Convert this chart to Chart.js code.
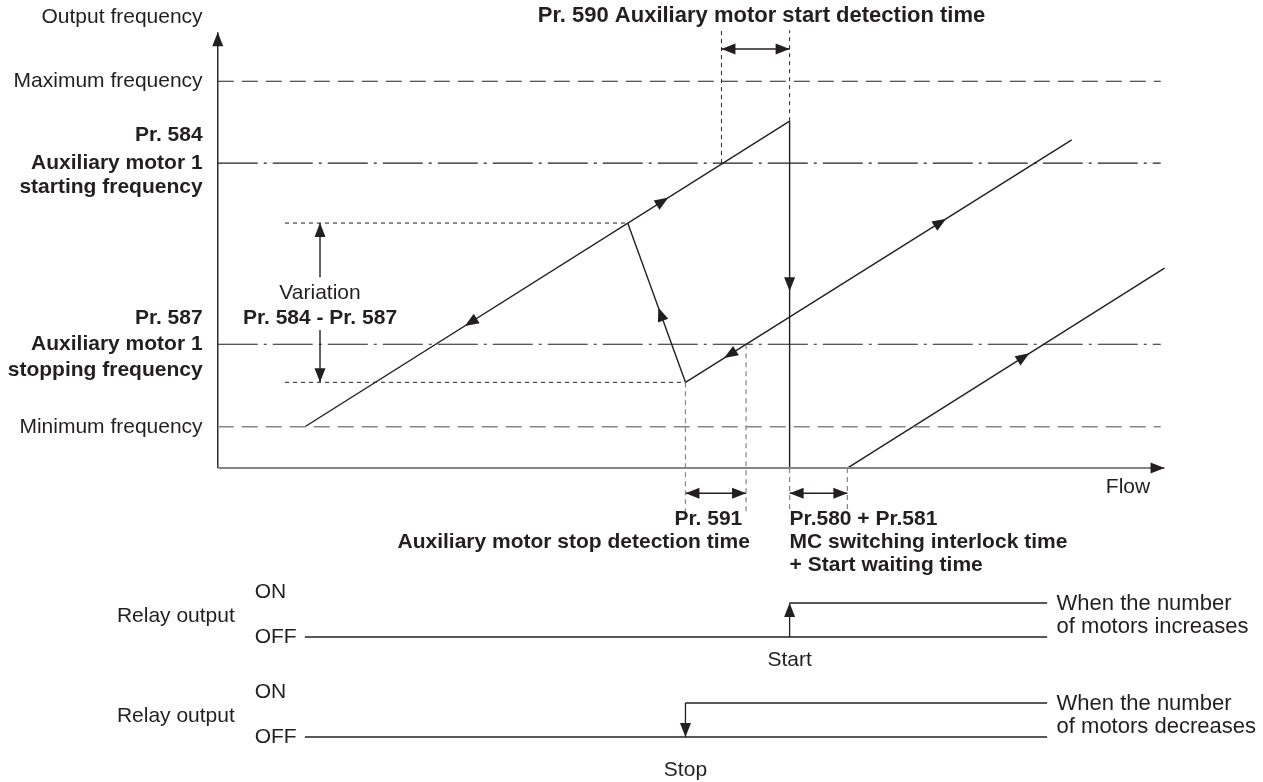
<!DOCTYPE html>
<html>
<head>
<meta charset="utf-8">
<script src="https://cdn.jsdelivr.net/npm/chart.js@4.4.0/dist/chart.umd.min.js"></script>
<style>
  html, body { margin: 0; padding: 0; background: #fff; }
  #wrap { width: 1263px; height: 782px; }
</style>
</head>
<body>
<div id="wrap"><canvas id="diagram" width="1263" height="782"></canvas></div>
<script>
// Reference frequency levels (Hz)
const levelNames = ['Maximum frequency', 'Pr. 584', 'Pr. 587', 'Minimum frequency'];
const levelFreq = [60, 47.3, 19.2, 6.4];
const variationFreq = [38.0, 13.3];          // top / bottom of the variation band

// Output frequency path (flow in %, frequency in Hz)
const riseFlow = [9.2, 60.4];     const riseFreq = [6.4, 53.8];
const dropFlow = [60.4, 60.4];    const dropFreq = [53.8, 0];
const backFlow = [43.3, 49.4];    const backFreq = [38.0, 13.3];
const climbFlow = [49.4, 90.2];   const climbFreq = [13.3, 50.9];
const restartFlow = [66.5, 100];  const restartFreq = [0, 31.0];

// Flow marks for the timing arrows
const startDetectFlow = [53.2, 60.4];   // Pr. 590
const stopDetectFlow = [49.4, 55.8];    // Pr. 591
const waitFlow = [60.4, 66.5];          // Pr.580 + Pr.581

// Relay outputs: OFF -> ON at these flows
const relayNames = ['increases', 'decreases'];
const relaySwitchFlow = [60.4, 49.4];
const relayRowBase = [2.94, 0];
const relayFlowRange = [9.2, 87.6];

const ink = '#231f20';
const grey = '#858585';

function seg(label, xs, ys, style, axis) {
  return Object.assign({
    label: label,
    data: xs.map((x, i) => ({ x: x, y: ys[i] })),
    showLine: true,
    pointRadius: 0,
    borderColor: ink,
    borderWidth: 1.4,
    yAxisID: axis || 'y'
  }, style);
}

const dashed = { borderDash: [16, 8], borderWidth: 1.2 };
const dashDot = { borderDash: [40, 6, 3, 6], borderWidth: 1.2 };
const greyDash = { borderDash: [16, 8], borderWidth: 1.6, borderColor: grey };
const dotted = { borderDash: [4, 4], borderWidth: 1 };
const greyDot = { borderDash: [5, 4], borderWidth: 1.2, borderColor: grey };

const lineStyles = [dashed, dashDot, dashDot, greyDash];

const datasets = [];
levelFreq.forEach((f, i) => datasets.push(seg('level' + i, [0, 99.6], [f, f], lineStyles[i])));
datasets.push(seg('varTop', [7.1, backFlow[0]], [variationFreq[0], variationFreq[0]], dotted));
datasets.push(seg('varBot', [7.1, backFlow[1]], [variationFreq[1], variationFreq[1]], dotted));

// guide verticals
datasets.push(seg('g590a', [startDetectFlow[0], startDetectFlow[0]], [levelFreq[1], 67.9], dotted));
datasets.push(seg('g590b', [startDetectFlow[1], startDetectFlow[1]], [riseFreq[1], 67.9], dotted));
datasets.push(seg('g591a', [stopDetectFlow[0], stopDetectFlow[0]], [variationFreq[1], -7.0], greyDot));
datasets.push(seg('g591b', [stopDetectFlow[1], stopDetectFlow[1]], [levelFreq[2], -7.0], greyDot));
datasets.push(seg('gWaitA', [waitFlow[0], waitFlow[0]], [0, -7.0], greyDot));
datasets.push(seg('gWaitB', [waitFlow[1], waitFlow[1]], [0, -7.0], greyDot));

// timing arrows
datasets.push(seg('t590', startDetectFlow, [65.0, 65.0], {}));
datasets.push(seg('t591', stopDetectFlow, [-3.9, -3.9], {}));
datasets.push(seg('tWait', waitFlow, [-3.9, -3.9], {}));
datasets.push(seg('varUp', [10.8, 10.8], [29.6, variationFreq[0]], {}));
datasets.push(seg('varDown', [10.8, 10.8], [21.4, variationFreq[1]], {}));

// axes
datasets.push(seg('xAxis', [0, 100], [0, 0], { borderColor: grey, borderWidth: 2 }));
datasets.push(seg('yAxis', [0, 0], [0, 67.6], { borderWidth: 1.4 }));

// frequency path
datasets.push(seg('rise', riseFlow, riseFreq, {}));
datasets.push(seg('drop', dropFlow, dropFreq, {}));
datasets.push(seg('back', backFlow, backFreq, {}));
datasets.push(seg('climb', climbFlow, climbFreq, {}));
datasets.push(seg('restart', restartFlow, restartFreq, {}));

// relay outputs
relaySwitchFlow.forEach((sf, i) => {
  const b = relayRowBase[i];
  datasets.push(seg('offLine' + i, relayFlowRange, [b, b], { borderWidth: 1.3 }, 'yr'));
  datasets.push(seg('onLine' + i, [sf, relayFlowRange[1]], [b + 1, b + 1], { borderWidth: 1.3 }, 'yr'));
  const ys = i === 0 ? [b, b + 1] : [b + 1, b];
  datasets.push(seg('edge' + i, [sf, sf], ys, { borderWidth: 1.3 }, 'yr'));
});

// arrowheads: line label, position along it, reversed direction
const arrowMarks = [
  { line: 'rise', t: 0.33, back: true }, { line: 'rise', t: 0.75 },
  { line: 'drop', t: 0.49 },
  { line: 'back', t: 0.53, back: true },
  { line: 'climb', t: 0.10, back: true }, { line: 'climb', t: 0.675 },
  { line: 'restart', t: 0.574 },
  { line: 'xAxis', t: 1 }, { line: 'yAxis', t: 1 },
  { line: 't590', t: 0, back: true }, { line: 't590', t: 1 },
  { line: 't591', t: 0, back: true }, { line: 't591', t: 1 },
  { line: 'tWait', t: 0, back: true }, { line: 'tWait', t: 1 },
  { line: 'varUp', t: 1 }, { line: 'varDown', t: 1 },
  { line: 'edge0', t: 1 }, { line: 'edge1', t: 1 }
];

// text: [text, flow, value, align, bold, axis, size]
const texts = [
  ['Output frequency', -1.6, 69.9, 'right', false],
  ['Pr. 590 Auxiliary motor start detection time', 33.8, 70.1, 'left', true, 'y', 22],
  [levelNames[0], -1.6, levelFreq[0], 'right', false],
  [levelNames[1], -1.6, 51.6, 'right', true],
  ['Auxiliary motor 1', -1.6, levelFreq[1], 'right', true],
  ['starting frequency', -1.6, 43.6, 'right', true],
  ['Variation', 10.8, 27.1, 'center', false],
  ['Pr. 584 - Pr. 587', 10.8, 23.3, 'center', true],
  [levelNames[2], -1.6, 23.3, 'right', true],
  ['Auxiliary motor 1', -1.6, levelFreq[2], 'right', true],
  ['stopping frequency', -1.6, 15.2, 'right', true],
  [levelNames[3], -1.6, levelFreq[3], 'right', false],
  ['Flow', 93.8, -2.9, 'left', false],
  ['Pr. 591', 55.4, -7.9, 'right', true],
  ['Auxiliary motor stop detection time', 56.2, -11.5, 'right', true],
  ['Pr.580 + Pr.581', 60.4, -7.9, 'left', true],
  ['MC switching interlock time', 60.4, -11.5, 'left', true],
  ['+ Start waiting time', 60.4, -15.0, 'left', true],
  ['Relay output', 1.8, 3.56, 'right', false, 'yr'],
  ['ON', 3.9, 4.26, 'left', false, 'yr'],
  ['OFF', 3.9, 2.94, 'left', false, 'yr'],
  ['When the number', 88.6, 3.91, 'left', false, 'yr', 22],
  ['of motors ' + relayNames[0], 88.6, 3.24, 'left', false, 'yr', 22],
  ['Start', relaySwitchFlow[0], 2.26, 'center', false, 'yr'],
  ['Relay output', 1.8, 0.62, 'right', false, 'yr'],
  ['ON', 3.9, 1.32, 'left', false, 'yr'],
  ['OFF', 3.9, 0, 'left', false, 'yr'],
  ['When the number', 88.6, 0.97, 'left', false, 'yr', 22],
  ['of motors ' + relayNames[1], 88.6, 0.29, 'left', false, 'yr', 22],
  ['Stop', relaySwitchFlow[1], -0.97, 'center', false, 'yr']
];

const whiteBg = {
  id: 'whiteBg',
  beforeDraw(chart) {
    const c = chart.ctx;
    c.save();
    c.fillStyle = '#fff';
    c.fillRect(0, 0, chart.width, chart.height);
    c.restore();
  }
};

const arrowPlugin = {
  id: 'arrows',
  afterDatasetsDraw(chart) {
    const c = chart.ctx;
    const xs = chart.scales.x;
    c.save();
    arrowMarks.forEach(a => {
      const ds = chart.data.datasets.find(d => d.label === a.line);
      const ys = chart.scales[ds.yAxisID];
      const x0 = xs.getPixelForValue(ds.data[0].x), y0 = ys.getPixelForValue(ds.data[0].y);
      const x1 = xs.getPixelForValue(ds.data[1].x), y1 = ys.getPixelForValue(ds.data[1].y);
      let dx = x1 - x0, dy = y1 - y0;
      if (a.back) { dx = -dx; dy = -dy; }
      const len = Math.hypot(dx, dy);
      const ux = dx / len, uy = dy / len;
      const tx = x0 + a.t * (x1 - x0), ty = y0 + a.t * (y1 - y0);
      const L = 14, W = 5.5;
      const bx = tx - ux * L, by = ty - uy * L;
      c.fillStyle = ink;
      c.beginPath();
      c.moveTo(tx, ty);
      c.lineTo(bx - uy * W, by + ux * W);
      c.lineTo(bx + uy * W, by - ux * W);
      c.closePath();
      c.fill();
    });
    c.restore();
  }
};

const textPlugin = {
  id: 'texts',
  afterDraw(chart) {
    const c = chart.ctx;
    c.save();
    c.fillStyle = ink;
    c.textBaseline = 'middle';
    texts.forEach(t => {
      c.font = (t[4] ? 'bold ' : '') + (t[6] || 21) + 'px "Liberation Sans", Arial, sans-serif';
      c.textAlign = t[3];
      c.fillText(t[0], chart.scales.x.getPixelForValue(t[1]),
        chart.scales[t[5] || 'y'].getPixelForValue(t[2]));
    });
    c.restore();
  }
};

new Chart(document.getElementById('diagram').getContext('2d'), {
  type: 'scatter',
  data: { datasets: datasets },
  options: {
    responsive: false,
    animation: false,
    layout: { padding: 0 },
    plugins: { legend: { display: false }, tooltip: { enabled: false } },
    scales: {
      x: { type: 'linear', min: -23, max: 110.4, display: false },
      y: { type: 'linear', min: -48.7, max: 72.6, display: false },
      yr: { type: 'linear', min: -1.324, max: 21.676, display: false }
    }
  },
  plugins: [whiteBg, arrowPlugin, textPlugin]
});
</script>
</body>
</html>
